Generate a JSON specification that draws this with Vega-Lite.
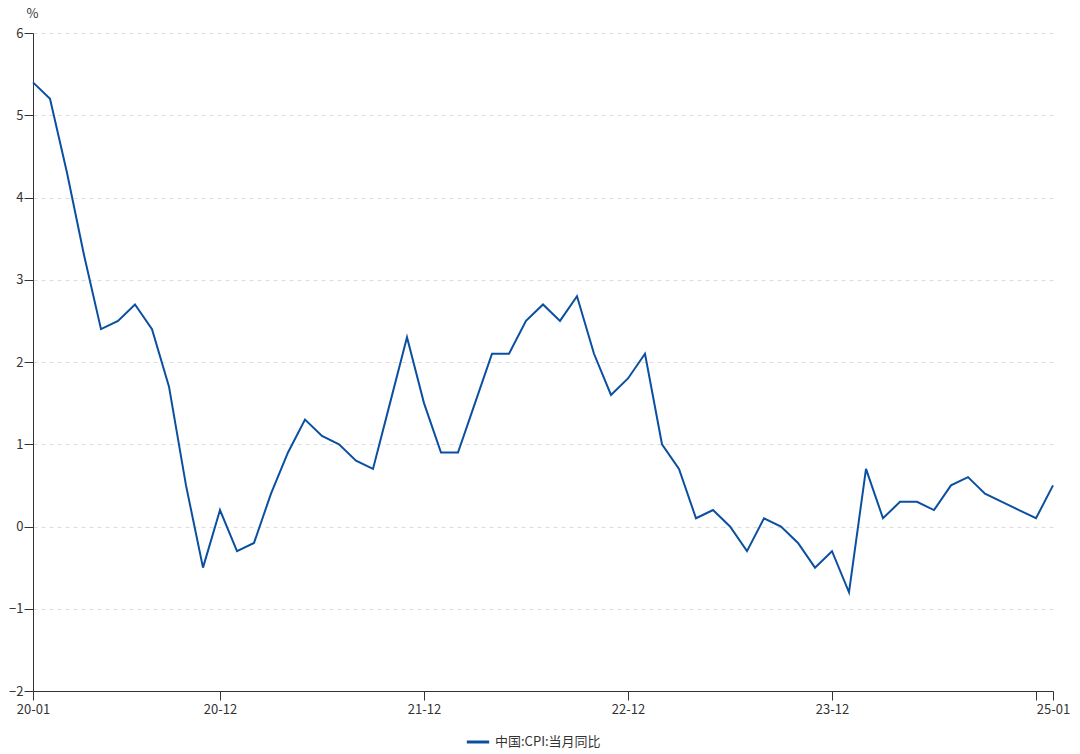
{
  "$schema": "https://vega.github.io/schema/vega-lite/v6.json",
  "autosize": {"type": "none"},
  "padding": {"left": 33, "top": 33, "right": 27, "bottom": 63},
  "width": 1020,
  "height": 658,
  "background": "white",
  "config": {
    "font": "Noto Sans CJK SC",
    "view": {"stroke": null}
  },
  "data": {
    "values": [
      {"m": "20-01", "v": 5.4, "s": "中国:CPI:当月同比"},
      {"m": "20-02", "v": 5.2, "s": "中国:CPI:当月同比"},
      {"m": "20-03", "v": 4.3, "s": "中国:CPI:当月同比"},
      {"m": "20-04", "v": 3.3, "s": "中国:CPI:当月同比"},
      {"m": "20-05", "v": 2.4, "s": "中国:CPI:当月同比"},
      {"m": "20-06", "v": 2.5, "s": "中国:CPI:当月同比"},
      {"m": "20-07", "v": 2.7, "s": "中国:CPI:当月同比"},
      {"m": "20-08", "v": 2.4, "s": "中国:CPI:当月同比"},
      {"m": "20-09", "v": 1.7, "s": "中国:CPI:当月同比"},
      {"m": "20-10", "v": 0.5, "s": "中国:CPI:当月同比"},
      {"m": "20-11", "v": -0.5, "s": "中国:CPI:当月同比"},
      {"m": "20-12", "v": 0.2, "s": "中国:CPI:当月同比"},
      {"m": "21-01", "v": -0.3, "s": "中国:CPI:当月同比"},
      {"m": "21-02", "v": -0.2, "s": "中国:CPI:当月同比"},
      {"m": "21-03", "v": 0.4, "s": "中国:CPI:当月同比"},
      {"m": "21-04", "v": 0.9, "s": "中国:CPI:当月同比"},
      {"m": "21-05", "v": 1.3, "s": "中国:CPI:当月同比"},
      {"m": "21-06", "v": 1.1, "s": "中国:CPI:当月同比"},
      {"m": "21-07", "v": 1.0, "s": "中国:CPI:当月同比"},
      {"m": "21-08", "v": 0.8, "s": "中国:CPI:当月同比"},
      {"m": "21-09", "v": 0.7, "s": "中国:CPI:当月同比"},
      {"m": "21-10", "v": 1.5, "s": "中国:CPI:当月同比"},
      {"m": "21-11", "v": 2.3, "s": "中国:CPI:当月同比"},
      {"m": "21-12", "v": 1.5, "s": "中国:CPI:当月同比"},
      {"m": "22-01", "v": 0.9, "s": "中国:CPI:当月同比"},
      {"m": "22-02", "v": 0.9, "s": "中国:CPI:当月同比"},
      {"m": "22-03", "v": 1.5, "s": "中国:CPI:当月同比"},
      {"m": "22-04", "v": 2.1, "s": "中国:CPI:当月同比"},
      {"m": "22-05", "v": 2.1, "s": "中国:CPI:当月同比"},
      {"m": "22-06", "v": 2.5, "s": "中国:CPI:当月同比"},
      {"m": "22-07", "v": 2.7, "s": "中国:CPI:当月同比"},
      {"m": "22-08", "v": 2.5, "s": "中国:CPI:当月同比"},
      {"m": "22-09", "v": 2.8, "s": "中国:CPI:当月同比"},
      {"m": "22-10", "v": 2.1, "s": "中国:CPI:当月同比"},
      {"m": "22-11", "v": 1.6, "s": "中国:CPI:当月同比"},
      {"m": "22-12", "v": 1.8, "s": "中国:CPI:当月同比"},
      {"m": "23-01", "v": 2.1, "s": "中国:CPI:当月同比"},
      {"m": "23-02", "v": 1.0, "s": "中国:CPI:当月同比"},
      {"m": "23-03", "v": 0.7, "s": "中国:CPI:当月同比"},
      {"m": "23-04", "v": 0.1, "s": "中国:CPI:当月同比"},
      {"m": "23-05", "v": 0.2, "s": "中国:CPI:当月同比"},
      {"m": "23-06", "v": 0.0, "s": "中国:CPI:当月同比"},
      {"m": "23-07", "v": -0.3, "s": "中国:CPI:当月同比"},
      {"m": "23-08", "v": 0.1, "s": "中国:CPI:当月同比"},
      {"m": "23-09", "v": 0.0, "s": "中国:CPI:当月同比"},
      {"m": "23-10", "v": -0.2, "s": "中国:CPI:当月同比"},
      {"m": "23-11", "v": -0.5, "s": "中国:CPI:当月同比"},
      {"m": "23-12", "v": -0.3, "s": "中国:CPI:当月同比"},
      {"m": "24-01", "v": -0.8, "s": "中国:CPI:当月同比"},
      {"m": "24-02", "v": 0.7, "s": "中国:CPI:当月同比"},
      {"m": "24-03", "v": 0.1, "s": "中国:CPI:当月同比"},
      {"m": "24-04", "v": 0.3, "s": "中国:CPI:当月同比"},
      {"m": "24-05", "v": 0.3, "s": "中国:CPI:当月同比"},
      {"m": "24-06", "v": 0.2, "s": "中国:CPI:当月同比"},
      {"m": "24-07", "v": 0.5, "s": "中国:CPI:当月同比"},
      {"m": "24-08", "v": 0.6, "s": "中国:CPI:当月同比"},
      {"m": "24-09", "v": 0.4, "s": "中国:CPI:当月同比"},
      {"m": "24-10", "v": 0.3, "s": "中国:CPI:当月同比"},
      {"m": "24-11", "v": 0.2, "s": "中国:CPI:当月同比"},
      {"m": "24-12", "v": 0.1, "s": "中国:CPI:当月同比"},
      {"m": "25-01", "v": 0.5, "s": "中国:CPI:当月同比"}
    ]
  },
  "mark": {"type": "line", "strokeWidth": 2, "interpolate": "linear"},
  "encoding": {
    "x": {
      "field": "m",
      "type": "ordinal",
      "sort": null,
      "scale": {"type": "point", "padding": 0},
      "axis": {
        "title": null,
        "values": ["20-01", "20-12", "21-12", "22-12", "23-12", "24-12", "25-01"],
        "labelExpr": "datum.value == '24-12' ? '' : datum.value",
        "labelAngle": 0,
        "labelFontSize": 13,
        "labelColor": "#333333",
        "labelPadding": 3,
        "tickSize": 9,
        "tickColor": "#333333",
        "domainColor": "#333333",
        "grid": false,
        "labelOverlap": false
      }
    },
    "y": {
      "field": "v",
      "type": "quantitative",
      "scale": {"domain": [-2, 6], "nice": false, "zero": false},
      "axis": {
        "title": "%",
        "titleAngle": 0,
        "titleX": -1,
        "titleY": -20,
        "titleAlign": "center",
        "titleBaseline": "middle",
        "titleFontSize": 13,
        "titleFontWeight": "normal",
        "titleColor": "#333333",
        "values": [-2, -1, 0, 1, 2, 3, 4, 5, 6],
        "labelFontSize": 13,
        "labelColor": "#333333",
        "labelPadding": 1,
        "tickSize": 9,
        "tickColor": "#333333",
        "domainColor": "#333333",
        "grid": true,
        "gridColor": "#dddddd",
        "gridDash": [4, 4],
        "gridWidth": 1
      }
    },
    "color": {
      "field": "s",
      "type": "nominal",
      "scale": {"range": ["#0b50a0"]},
      "legend": {
        "title": null,
        "orient": "none",
        "legendX": 432,
        "legendY": 696,
        "direction": "horizontal",
        "symbolType": "stroke",
        "symbolStrokeWidth": 3,
        "symbolSize": 500,
        "labelFontSize": 13,
        "labelColor": "#333333"
      }
    }
  }
}
